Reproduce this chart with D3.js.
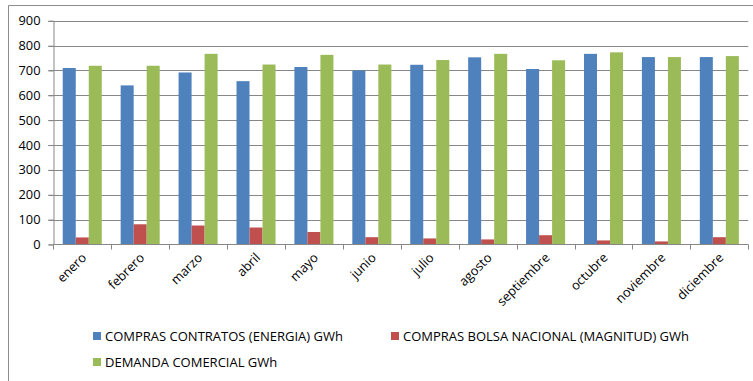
<!DOCTYPE html>
<html>
<head>
<meta charset="utf-8">
<script src="https://cdn.jsdelivr.net/npm/d3@7"></script>
<style>
  html, body { margin: 0; padding: 0; background: #fff; }
  svg { display: block; font-family: "Open Sans", "Liberation Sans", sans-serif; }
</style>
</head>
<body>
<svg id="chart" width="753" height="381"></svg>
<script>
// Monthly energy figures, GWh
const months = ["enero", "febrero", "marzo", "abril", "mayo", "junio", "julio",
  "agosto", "septiembre", "octubre", "noviembre", "diciembre"];
const comprasContratos = [710, 640, 692, 657, 714, 700, 723, 753, 706, 767, 754, 754];
const comprasBolsa = [28, 81, 76, 68, 50, 29, 24, 20, 37, 16, 12, 29];
const demandaComercial = [719, 719, 767, 724, 763, 724, 742, 767, 741, 773, 754, 758];
const seriesNames = [
  "COMPRAS CONTRATOS (ENERGIA) GWh",
  "COMPRAS BOLSA NACIONAL (MAGNITUD) GWh",
  "DEMANDA COMERCIAL GWh"
];
const seriesColors = ["#4F81BD", "#C0504D", "#9BBB59"];
const yTicks = [0, 100, 200, 300, 400, 500, 600, 700, 800, 900];

const seriesValues = [comprasContratos, comprasBolsa, demandaComercial];
const rows = months.map((m, i) => ({ month: m, values: seriesValues.map(s => s[i]) }));

const svg = d3.select("#chart");
const plot = { left: 53.3, right: 748.3, top: 20.8, bottom: 244.4 };

// outer frame (top and left edges)
svg.append("line").attr("x1", 8.5).attr("x2", 753).attr("y1", 5.5).attr("y2", 5.5)
  .attr("stroke", "#8c8c8c").attr("stroke-width", 1);
svg.append("line").attr("x1", 8.5).attr("x2", 8.5).attr("y1", 5.5).attr("y2", 381)
  .attr("stroke", "#8c8c8c").attr("stroke-width", 1);

const x0 = d3.scaleBand().domain(months).range([plot.left, plot.right]).padding(0);
const groupPad = x0.bandwidth() * 0.163;
const x1 = d3.scaleBand().domain(d3.range(3)).range([groupPad, x0.bandwidth() - groupPad]).padding(0);
const y = d3.scaleLinear().domain([0, 900]).range([plot.bottom, plot.top]);

// gridlines
svg.append("g").selectAll("line").data(yTicks.slice(1)).join("line")
  .attr("x1", plot.left - 5).attr("x2", plot.right)
  .attr("y1", d => Math.round(y(d)) + 0.5).attr("y2", d => Math.round(y(d)) + 0.5)
  .attr("stroke", "#878787").attr("stroke-width", 1);

// y axis
const yAxis = svg.append("g")
  .attr("transform", `translate(${Math.round(plot.left) + 0.5},0)`)
  .call(d3.axisLeft(y).tickValues(yTicks).tickSize(5).tickPadding(8));
yAxis.select(".domain").attr("stroke", "#878787");
yAxis.selectAll(".tick line").attr("stroke", "#878787");
yAxis.selectAll(".tick text").attr("fill", "#000").attr("font-size", 12.8)
  .attr("font-family", "Open Sans");

// bars
svg.append("g").selectAll("g").data(rows).join("g")
  .attr("transform", d => `translate(${x0(d.month)},0)`)
  .selectAll("rect").data(d => d.values.map((v, k) => ({ v, k }))).join("rect")
  .attr("x", d => x1(d.k))
  .attr("width", x1.bandwidth())
  .attr("y", d => y(d.v))
  .attr("height", d => y(0) - y(d.v))
  .attr("fill", d => seriesColors[d.k]);

// x axis
const xAxisG = svg.append("g").attr("transform", `translate(0,${Math.round(plot.bottom) + 0.5})`);
xAxisG.append("line").attr("x1", plot.left).attr("x2", plot.right)
  .attr("stroke", "#878787");
const boundaries = months.map(m => x0(m)).concat([plot.right]);
xAxisG.selectAll("line.tk").data(boundaries).join("line").attr("class", "tk")
  .attr("x1", d => Math.round(d) + 0.5).attr("x2", d => Math.round(d) + 0.5)
  .attr("y1", 0).attr("y2", 5).attr("stroke", "#878787");
xAxisG.selectAll("text").data(months).join("text")
  .attr("transform", d => `translate(${x0(d) + x0.bandwidth() / 2 + 5},${14}) rotate(-45)`)
  .attr("text-anchor", "end")
  .attr("font-size", 12.8)
  .attr("fill", "#000")
  .text(d => d);

// legend
const legendItems = [
  { k: 0, x: 93, y: 336 },
  { k: 1, x: 391, y: 336 },
  { k: 2, x: 93, y: 362 }
];
const lg = svg.append("g").selectAll("g").data(legendItems).join("g")
  .attr("transform", d => `translate(${d.x},${d.y})`);
lg.append("rect").attr("x", 0).attr("y", -4).attr("width", 8).attr("height", 8)
  .attr("fill", d => seriesColors[d.k]);
lg.append("text").attr("x", 12).attr("y", 0).attr("dy", "0.35em")
  .attr("font-size", 13).attr("fill", "#000")
  .text(d => seriesNames[d.k]);
</script>
</body>
</html>
